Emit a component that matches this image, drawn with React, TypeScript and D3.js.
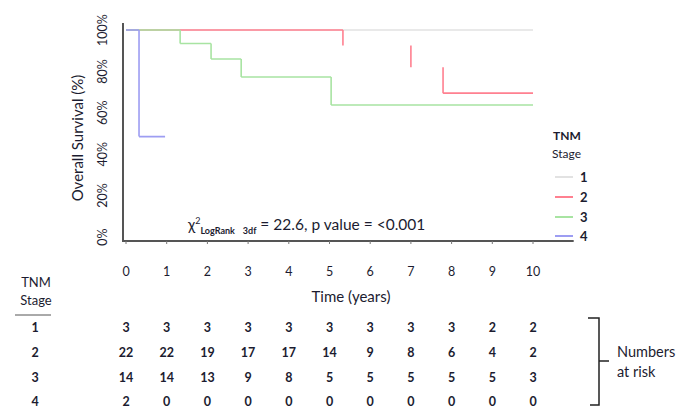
import React from "react";
import * as d3 from "d3";

// Kaplan-Meier curves: [time in years, survival]
const stageNames = ["1", "2", "3", "4"];
const stageColors = ["#e2e2e2", "#ff8090", "#a8e4a2", "#9d9df2"];
const stage1Curve: [number, number][] = [[0, 1], [10, 1]];
const stage2Curve: [number, number][] = [[0, 1], [5.33, 0.925], [7.0, 0.82], [7.79, 0.695], [10, 0.695]];
const stage3Curve: [number, number][] = [[0, 1], [1.33, 0.935], [2.09, 0.86], [2.83, 0.773], [5.04, 0.638], [10, 0.638]];
const stage4Curve: [number, number][] = [[0, 1], [0.32, 0.485], [0.96, 0.485]];
const curves = [stage1Curve, stage2Curve, stage3Curve, stage4Curve];
// in the source the stage 2 curve only shows its drops between first and last flat
const showInnerFlats = [true, false, true, true];

const years = d3.range(0, 11);
const yTicks = [0, 0.2, 0.4, 0.6, 0.8, 1];

// numbers at risk per stage, one per year
const risk1 = [3, 3, 3, 3, 3, 3, 3, 3, 3, 2, 2];
const risk2 = [22, 22, 19, 17, 17, 14, 9, 8, 6, 4, 2];
const risk3 = [14, 14, 13, 9, 8, 5, 5, 5, 5, 5, 3];
const risk4 = [2, 0, 0, 0, 0, 0, 0, 0, 0, 0, 0];
const riskRows = [risk1, risk2, risk3, risk4];

const W = 687;
const H = 411;
const font = "Lato, 'Liberation Sans', sans-serif";
const ink = "#1c1c30";

export default function App() {
  const x = d3.scaleLinear().domain([0, 10]).range([126, 533]);
  const y = d3.scaleLinear().domain([0, 1]).range([237, 30]);

  // step curve as path, optionally skipping the inner horizontal runs
  function stepPath(c: [number, number][], inner: boolean) {
    const p = d3.path();
    for (let i = 0; i < c.length - 1; i++) {
      const [t0, s0] = c[i];
      const [t1, s1] = c[i + 1];
      if (inner || i === 0 || i === c.length - 2) {
        p.moveTo(x(t0), y(s0));
        p.lineTo(x(t1), y(s0));
      }
      if (s1 !== s0) {
        p.moveTo(x(t1), y(s0));
        p.lineTo(x(t1), y(s1));
      }
    }
    return p.toString();
  }

  const rowY = [327, 352, 377, 401];
  const legendY = [177, 197, 217, 236];

  return (
    <svg
      width={W}
      height={H}
      style={{ position: "absolute", left: 0, top: 0, background: "#fff" }}
      fontFamily={font}
    >
      {/* axes */}
      <line x1={123} x2={123} y1={23} y2={241} stroke="#555" strokeWidth={2} />
      <line x1={122} x2={x(11)} y1={241} y2={241} stroke="#555" strokeWidth={2} />
      {years.map((t) => (
        <line key={"tk" + t} x1={x(t)} x2={x(t)} y1={241} y2={244} stroke="#777" strokeWidth={1} />
      ))}

      {/* y tick labels, rotated */}
      {yTicks.map((v) => (
        <text
          key={"yt" + v}
          transform={`translate(107,${y(v)}) rotate(-90)`}
          textAnchor="middle"
          fontSize={12.5}
          fill={ink}
        >
          {d3.format(".0%")(v)}
        </text>
      ))}
      <text
        transform={`translate(83,138) rotate(-90)`}
        textAnchor="middle"
        fontSize={15}
        fill={ink}
      >
        Overall Survival (%)
      </text>

      {/* curves, stage 1 underneath */}
      {curves.map((c, i) => (
        <path key={"c" + i} d={stepPath(c, showInnerFlats[i])} fill="none" stroke={stageColors[i]} strokeWidth={1.6} />
      ))}

      {/* test annotation */}
      <text x={188} y={230} fontSize={15} fill={ink}>
        χ
        <tspan dy={-6} fontSize={9}>2</tspan>
        <tspan dy={10} fontSize={9} fontWeight="bold">LogRank</tspan>
        <tspan dx={8} fontSize={9} fontWeight="bold">3df</tspan>
        <tspan dy={-4} fontSize={15.5}> = 22.6, p value = &lt;0.001</tspan>
      </text>

      {/* legend */}
      <text x={553} y={140} fontSize={12} fontWeight="bold" fill={ink}>TNM</text>
      <text x={552} y={158} fontSize={12} fill={ink}>Stage</text>
      {stageNames.map((s, i) => (
        <g key={"lg" + s}>
          <line x1={555} x2={573} y1={legendY[i]} y2={legendY[i]} stroke={stageColors[i]} strokeWidth={2} />
          <text x={580} y={legendY[i] + 5} fontSize={13} fontWeight="bold" fill={ink}>{s}</text>
        </g>
      ))}

      {/* x tick labels and title */}
      {years.map((t) => (
        <text key={"xl" + t} x={x(t)} y={276} textAnchor="middle" fontSize={12.5} fill={ink}>
          {t}
        </text>
      ))}
      <text x={351} y={302} textAnchor="middle" fontSize={15} fill={ink}>Time (years)</text>

      {/* numbers at risk table */}
      <text x={36} y={287} textAnchor="middle" fontSize={13} fill={ink}>TNM</text>
      <text x={36} y={305} textAnchor="middle" fontSize={13} fill={ink}>Stage</text>
      <line x1={15} x2={51} y1={315} y2={315} stroke="#555" strokeWidth={1} />
      {stageNames.map((s, i) => (
        <g key={"row" + s}>
          <text x={35} y={rowY[i] + 4.5} textAnchor="middle" fontSize={12.5} fontWeight="bold" fill={ink}>{s}</text>
          {riskRows[i].map((n, j) => (
            <text key={"n" + j} x={x(years[j])} y={rowY[i] + 4.5} textAnchor="middle" fontSize={12.5} fontWeight="bold" fill={ink}>
              {n}
            </text>
          ))}
        </g>
      ))}

      {/* brace */}
      <path
        d="M588,318 L599,318 L599,405 L590,405 M599,361 L609,361"
        fill="none"
        stroke="#222"
        strokeWidth={1.5}
      />
      <text x={617} y={357} fontSize={14.5} fill={ink}>Numbers</text>
      <text x={617} y={377} fontSize={14.5} fill={ink}>at risk</text>
    </svg>
  );
}
